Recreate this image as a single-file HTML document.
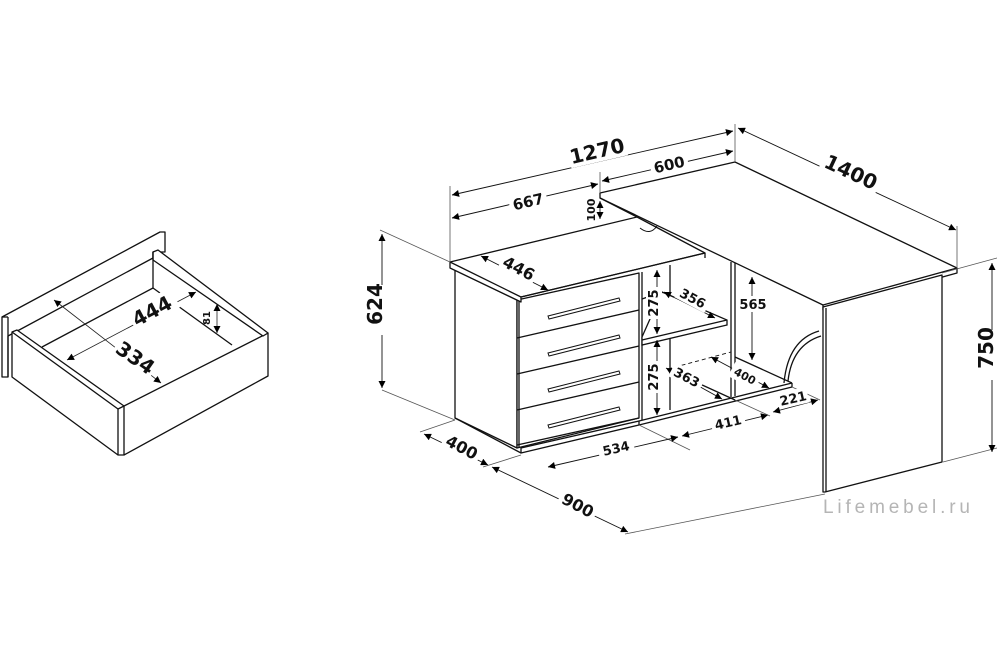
<!DOCTYPE html>
<html><head><meta charset="utf-8"><style>
html,body{margin:0;padding:0;background:#fff;}
svg{display:block;}
text{font-family:"DejaVu Sans","Liberation Sans",sans-serif;font-weight:bold;fill:#111;}
</style></head><body>
<svg width="997" height="660" viewBox="0 0 997 660" xmlns="http://www.w3.org/2000/svg">
<defs>
<marker id="a" viewBox="0 0 10 10" refX="10" refY="5" markerWidth="9" markerHeight="7" orient="auto-start-reverse" markerUnits="userSpaceOnUse"><path d="M0,0 L10,5 L0,10 z" fill="#000"/></marker>
</defs>
<g fill="none" stroke="#111" stroke-width="1.3" stroke-linejoin="round">
<polygon points="2,317 160,232 165,232 165,252 153,252 153,258 8,336 8,377 2,377" fill="#fff"/>
<line x1="8" y1="317" x2="8" y2="377"/>
<line x1="2" y1="317" x2="8" y2="317"/>
<polygon points="12,332 17,330 124,406 268,333 268,376 124,455 118,455 12,377" fill="#fff"/>
<line x1="118" y1="409" x2="118" y2="455"/>
<line x1="124" y1="406" x2="124" y2="455"/>
<line x1="118" y1="409" x2="12" y2="332"/>
<line x1="118" y1="409" x2="124" y2="406"/>
<polygon points="153,252 158,250 268,333 263,336 153,260" fill="#fff"/>
<line x1="153" y1="252" x2="153" y2="288"/>
<line x1="42" y1="347" x2="153" y2="288"/>
<line x1="153" y1="288" x2="232" y2="345"/>
</g>
<g stroke="#222" stroke-width="0.8" fill="none">
<line x1="67" y1="360" x2="196" y2="292" marker-start="url(#a)" marker-end="url(#a)"/>
<line x1="54" y1="300" x2="161" y2="383" marker-start="url(#a)" marker-end="url(#a)"/>
<line x1="217" y1="304" x2="217" y2="333" marker-start="url(#a)" marker-end="url(#a)"/>
</g>
<rect x="128" y="298" width="50" height="22" fill="#fff" transform="rotate(-28 153 309)"/>
<rect x="113" y="346" width="46" height="22" fill="#fff" transform="rotate(35 136 357)"/>
<text x="152" y="318" font-size="20" text-anchor="middle" transform="rotate(-28 152 311)">444</text>
<text x="136" y="365" font-size="20" text-anchor="middle" transform="rotate(35 136 357)">334</text>
<text x="210" y="318" font-size="10" text-anchor="middle" transform="rotate(-90 210 318)">81</text>

<g fill="#fff" stroke="#111" stroke-width="1.3" stroke-linejoin="round">
<polygon points="600,193 735,162 957,268 957,273 823,310 823,305 600,198"/>
<line x1="823" y1="305" x2="957" y2="268"/>
<polygon points="823,307 942,275 942,462 825,492 823,492"/>
<line x1="826" y1="308" x2="826" y2="492"/>
<polygon points="455,270 517,300 517,448 455,418"/>
<polygon points="517,300 639,273 639,418 517,448"/>
<polygon points="521,448 639,421 639,425 521,453"/>
<line x1="455" y1="418" x2="521" y2="453"/>
<polygon points="450,262 637,217 705,253 521,297 521,302 450,268"/>
<line x1="450" y1="262" x2="521" y2="297"/>
</g>
<g fill="none" stroke="#111" stroke-width="1.3">
<line x1="521" y1="297" x2="705" y2="253"/>
<line x1="637" y1="217" x2="600" y2="198"/>
<line x1="519" y1="301" x2="519" y2="448"/>
<line x1="517" y1="338" x2="639" y2="310"/>
<line x1="517" y1="374" x2="639" y2="346"/>
<line x1="517" y1="410" x2="639" y2="382"/>
<line x1="517" y1="445" x2="639" y2="418"/>
<line x1="642" y1="272" x2="642" y2="420"/>
<line x1="670" y1="265" x2="670" y2="410"/>
<line x1="705" y1="253" x2="705" y2="258"/>
<line x1="731" y1="262" x2="731" y2="397"/>
<line x1="735" y1="263" x2="735" y2="396"/>
<polygon points="642,337 662,292 727,320 727,325 642,345" fill="#fff"/>
<line x1="642" y1="340" x2="727" y2="320"/>
<line x1="662" y1="292" x2="642" y2="299"/>
<line x1="639" y1="421" x2="792" y2="383"/>
<line x1="639" y1="425" x2="792" y2="387"/>
<line x1="792" y1="383" x2="792" y2="387"/>
<line x1="735" y1="357" x2="792" y2="383"/>
<line x1="670" y1="370" x2="700" y2="384"/>
<line x1="700" y1="384" x2="735" y2="400"/>
<path d="M784,383 Q788,340 819,331"/>
<path d="M788,381 Q792,345 821,336"/>
<g stroke-width="1">
<path d="M548,316 L619,298 L620,301 L549,319 z"/>
<path d="M548,353 L619,335 L620,338 L549,356 z"/>
<path d="M548,389 L619,371 L620,374 L549,392 z"/>
<path d="M548,425 L619,407 L620,410 L549,428 z"/>
</g>
</g>
<path d="M668,369 L731,352" stroke="#111" stroke-width="0.9" stroke-dasharray="4,3" fill="none"/>
<path d="M640,228 Q650,236 657,226" stroke="#111" fill="none" stroke-width="1"/>

<g stroke="#555" stroke-width="0.8" fill="none">
<line x1="450" y1="186" x2="450" y2="262"/>
<line x1="600" y1="172" x2="600" y2="193"/>
<line x1="735" y1="124" x2="735" y2="162"/>
<line x1="957" y1="226" x2="957" y2="268"/>
<line x1="380" y1="230" x2="450" y2="262"/>
<line x1="382" y1="390" x2="455" y2="420"/>
<line x1="942" y1="273" x2="997" y2="258"/>
<line x1="943" y1="462" x2="997" y2="448"/>
<line x1="420" y1="432" x2="455" y2="420"/>
<line x1="483" y1="467" x2="521" y2="455"/>
<line x1="625" y1="534" x2="825" y2="494"/>
<line x1="639" y1="425" x2="690" y2="450"/>
<line x1="735" y1="400" x2="770" y2="416"/>
<line x1="792" y1="387" x2="820" y2="400"/>
</g>
<g stroke="#111" stroke-width="0.9" fill="none">
<line x1="452" y1="195" x2="733" y2="131" marker-start="url(#a)" marker-end="url(#a)"/>
<line x1="452" y1="218" x2="598" y2="184" marker-start="url(#a)" marker-end="url(#a)"/>
<line x1="602" y1="181" x2="733" y2="151" marker-start="url(#a)" marker-end="url(#a)"/>
<line x1="600" y1="201" x2="600" y2="219" marker-start="url(#a)" marker-end="url(#a)"/>
<line x1="738" y1="128" x2="956" y2="230" marker-start="url(#a)" marker-end="url(#a)"/>
<line x1="481" y1="256" x2="548" y2="290" marker-start="url(#a)" marker-end="url(#a)"/>
<line x1="382" y1="234" x2="382" y2="388" marker-start="url(#a)" marker-end="url(#a)"/>
<line x1="992" y1="263" x2="992" y2="452" marker-start="url(#a)" marker-end="url(#a)"/>
<line x1="424" y1="434" x2="488" y2="465" marker-start="url(#a)" marker-end="url(#a)"/>
<line x1="492" y1="467" x2="628" y2="532" marker-start="url(#a)" marker-end="url(#a)"/>
<line x1="548" y1="467" x2="678" y2="437" marker-start="url(#a)" marker-end="url(#a)"/>
<line x1="682" y1="436" x2="768" y2="415" marker-start="url(#a)" marker-end="url(#a)"/>
<line x1="773" y1="412" x2="818" y2="400" marker-start="url(#a)" marker-end="url(#a)"/>
<line x1="657" y1="270" x2="657" y2="334" marker-start="url(#a)" marker-end="url(#a)"/>
<line x1="657" y1="340" x2="657" y2="415" marker-start="url(#a)" marker-end="url(#a)"/>
<line x1="664" y1="292" x2="715" y2="318" marker-start="url(#a)" marker-end="url(#a)"/>
<line x1="666" y1="368" x2="722" y2="399" marker-start="url(#a)" marker-end="url(#a)"/>
<line x1="711" y1="357" x2="769" y2="388" marker-start="url(#a)" marker-end="url(#a)"/>
<line x1="752" y1="277" x2="752" y2="360" marker-start="url(#a)" marker-end="url(#a)"/>
</g>
<g fill="#fff">
<rect x="568" y="138" width="58" height="24" transform="rotate(-13 597 150)"/>
<rect x="509" y="192" width="38" height="18" transform="rotate(-13 528 201)"/>
<rect x="650" y="155" width="38" height="18" transform="rotate(-13 669 164)"/>
<rect x="820" y="160" width="62" height="24" transform="rotate(25 851 172)"/>
<rect x="500" y="258" width="38" height="20" transform="rotate(28 519 268)"/>
<rect x="364" y="285" width="22" height="50"/>
<rect x="975" y="330" width="22" height="50"/>
<rect x="442" y="437" width="40" height="20" transform="rotate(28 462 447)"/>
<rect x="558" y="495" width="40" height="20" transform="rotate(28 578 505)"/>
<rect x="598" y="440" width="36" height="16" transform="rotate(-13 616 448)"/>
<rect x="711" y="414" width="34" height="16" transform="rotate(-13 728 422)"/>
<rect x="778" y="390" width="30" height="16" transform="rotate(-13 793 398)"/>
<rect x="646" y="287" width="16" height="32"/>
<rect x="646" y="361" width="16" height="32"/>
<rect x="676" y="290" width="34" height="16" transform="rotate(28 693 298)"/>
<rect x="670" y="369" width="34" height="16" transform="rotate(28 687 377)"/>
<rect x="730" y="368" width="30" height="16" transform="rotate(28 745 376)"/>
<rect x="738" y="296" width="30" height="16"/>
</g>
<text x="597" y="158" font-size="20" text-anchor="middle" transform="rotate(-13 597 151)">1270</text>
<text x="528" y="207" font-size="15" text-anchor="middle" transform="rotate(-13 528 201)">667</text>
<text x="669" y="170" font-size="15" text-anchor="middle" transform="rotate(-13 669 164)">600</text>
<text x="591" y="214" font-size="11" text-anchor="middle" transform="rotate(-90 591 210)">100</text>
<text x="851" y="179" font-size="20" text-anchor="middle" transform="rotate(25 851 172)">1400</text>
<text x="519" y="274" font-size="16" text-anchor="middle" transform="rotate(28 519 268)">446</text>
<text x="382" y="318" font-size="20" text-anchor="middle" transform="rotate(-90 375 311)">624</text>
<text x="993" y="362" font-size="20" text-anchor="middle" transform="rotate(-90 986 355)">750</text>
<text x="462" y="453" font-size="16" text-anchor="middle" transform="rotate(28 462 447)">400</text>
<text x="578" y="511" font-size="16" text-anchor="middle" transform="rotate(28 578 505)">900</text>
<text x="616" y="453" font-size="13" text-anchor="middle" transform="rotate(-13 616 448)">534</text>
<text x="728" y="427" font-size="13" text-anchor="middle" transform="rotate(-13 728 422)">411</text>
<text x="793" y="403" font-size="13" text-anchor="middle" transform="rotate(-13 793 398)">221</text>
<text x="654" y="307" font-size="13" text-anchor="middle" transform="rotate(-90 654 303)">275</text>
<text x="654" y="381" font-size="13" text-anchor="middle" transform="rotate(-90 654 377)">275</text>
<text x="693" y="303" font-size="13" text-anchor="middle" transform="rotate(28 693 298)">356</text>
<text x="687" y="382" font-size="13" text-anchor="middle" transform="rotate(28 687 377)">363</text>
<text x="745" y="380" font-size="11" text-anchor="middle" transform="rotate(28 745 376)">400</text>
<text x="753" y="309" font-size="13" text-anchor="middle">565</text>
<text x="823" y="513" font-size="19" textLength="147" style="font-weight:normal;fill:#b5b5b5;font-family:'Liberation Sans',sans-serif">Lifemebel.ru</text>
</svg>
</body></html>
